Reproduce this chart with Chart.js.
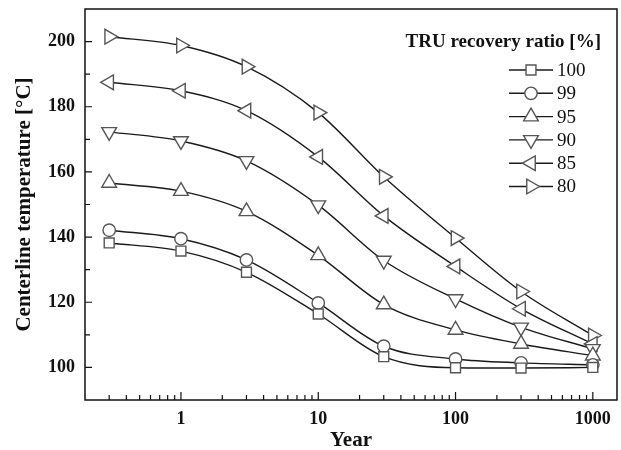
<!DOCTYPE html>
<html>
<head>
<meta charset="utf-8">
<script src="https://cdn.jsdelivr.net/npm/chart.js@4.4.1/dist/chart.umd.min.js"></script>
<style>
  html, body { margin: 0; padding: 0; background: #fff; }
  #wrap { width: 621px; height: 450px; position: relative; }
</style>
</head>
<body>
<div id="wrap"><canvas id="chart"></canvas></div>
<script>
// years on a log axis
const years = [0.3, 1, 3, 10, 30, 100, 300, 1000];

// centerline temperature [degC] for each TRU recovery ratio
const tru100 = [138.2, 135.7, 129.2, 116.4, 103.3, 99.9, 99.8, 100.0];
const tru99 = [142.1, 139.5, 133.0, 119.8, 106.5, 102.6, 101.4, 100.8];
const tru95 = [156.6, 154.1, 147.9, 134.4, 119.3, 111.5, 107.2, 103.6];
const tru90 = [172.3, 169.5, 163.4, 149.8, 132.8, 121.0, 112.3, 105.7];
const tru85 = [187.5, 184.9, 178.8, 164.6, 146.5, 131.0, 118.0, 107.2];
const tru80 = [201.5, 198.8, 192.3, 178.2, 158.5, 139.7, 123.3, 109.8];

const seriesLabels = ['100', '99', '95', '90', '85', '80'];
const xTickLabels = [1, 10, 100, 1000];
const yTickLabels = [100, 120, 140, 160, 180, 200];

const legendTitle = 'TRU recovery ratio [%]';

const lineColor = '#1a1a1a';
const markColor = '#555';

function mkSeries(label, values, style, rot, r) {
    return {
        label: label,
        data: years.map((x, i) => ({ x: x, y: values[i] })),
        borderColor: lineColor,
        borderWidth: 1.4,
        cubicInterpolationMode: 'monotone',
        pointStyle: style,
        rotation: rot,
        pointRadius: r,
        pointBorderWidth: 1.4,
        pointBorderColor: markColor,
        pointBackgroundColor: '#fff',
        fill: false
    };
}

// inward ticks, frame and the custom legend
const framePlugin = {
    id: 'frame',
    afterDraw(chart) {
        const ctx = chart.ctx;
        const a = chart.chartArea;
        const xs = chart.scales.x, ys = chart.scales.y;
        ctx.save();
        ctx.strokeStyle = '#111';
        ctx.lineWidth = 1.5;
        ctx.strokeRect(a.left, a.top, a.right - a.left, a.bottom - a.top);

        ctx.lineWidth = 1.2;
        ctx.beginPath();
        // x ticks, log decades
        for (let p = -1; p <= 3; p++) {
            for (let m = 1; m <= 9; m++) {
                const v = m * Math.pow(10, p);
                if (v < 0.25 || v > 1400) continue;
                const px = xs.getPixelForValue(v);
                const len = m === 1 ? 8 : 5;
                ctx.moveTo(px, a.bottom);
                ctx.lineTo(px, a.bottom - len);
            }
        }
        // y ticks
        for (let v = 100; v <= 200; v += 10) {
            const py = ys.getPixelForValue(v);
            const len = v % 20 === 0 ? 7 : 5;
            ctx.moveTo(a.left, py);
            ctx.lineTo(a.left + len, py);
        }
        ctx.stroke();

        // legend
        ctx.fillStyle = '#111';
        ctx.font = 'bold 19px "Liberation Serif"';
        ctx.textAlign = 'right';
        ctx.textBaseline = 'middle';
        ctx.fillText(legendTitle, 601, 42);

        ctx.font = '19px "Liberation Serif"';
        ctx.textAlign = 'left';
        chart.data.datasets.forEach((ds, i) => {
            const y = 70 + i * 23.3;
            ctx.strokeStyle = lineColor;
            ctx.lineWidth = 1.4;
            ctx.beginPath();
            ctx.moveTo(509, y);
            ctx.lineTo(553, y);
            ctx.stroke();
            ctx.strokeStyle = markColor;
            ctx.fillStyle = '#fff';
            ctx.lineWidth = 1.4;
            Chart.helpers.drawPoint(ctx, {
                pointStyle: ds.pointStyle,
                rotation: ds.rotation,
                radius: ds.pointRadius,
                borderWidth: 1.4
            }, 531, y);
            ctx.fillStyle = '#111';
            ctx.fillText(ds.label, 557, y + 1);
        });
        ctx.restore();
    }
};

const ctx = document.getElementById('chart').getContext('2d');
new Chart(ctx, {
    type: 'line',
    data: {
        datasets: [
            mkSeries(seriesLabels[0], tru100, 'rect', 0, 7),
            mkSeries(seriesLabels[1], tru99, 'circle', 0, 6.2),
            mkSeries(seriesLabels[2], tru95, 'triangle', 0, 8.5),
            mkSeries(seriesLabels[3], tru90, 'triangle', 180, 8.5),
            mkSeries(seriesLabels[4], tru85, 'triangle', 270, 8.5),
            mkSeries(seriesLabels[5], tru80, 'triangle', 90, 8.5)
        ]
    },
    options: {
        responsive: true,
        maintainAspectRatio: false,
        animation: false,
        layout: { autoPadding: false, padding: { left: 0, right: 4, top: 9, bottom: 0 } },
        plugins: {
            legend: { display: false },
            tooltip: { enabled: false }
        },
        scales: {
            x: {
                type: 'logarithmic',
                min: 0.2,
                max: 1500,
                grid: { display: false, drawTicks: false },
                border: { display: false },
                afterFit(scale) {
                    scale.height = 50;
                    scale.paddingLeft = 0;
                    scale.paddingRight = 0;
                },
                ticks: {
                    autoSkip: false,
                    maxRotation: 0,
                    padding: 9,
                    color: '#111',
                    font: { family: 'Liberation Serif', size: 18, weight: 'bold' },
                    callback: v => xTickLabels.includes(v) ? String(v) : ''
                },
                title: {
                    display: true,
                    text: 'Year',
                    color: '#111',
                    padding: { top: 0, bottom: 0 },
                    font: { family: 'Liberation Serif', size: 21, weight: 'bold', lineHeight: 0.9 }
                }
            },
            y: {
                min: 90,
                max: 210,
                grid: { display: false, drawTicks: false },
                border: { display: false },
                afterFit(scale) {
                    scale.width = 85;
                    scale.paddingTop = 0;
                    scale.paddingBottom = 0;
                },
                ticks: {
                    stepSize: 10,
                    padding: 10,
                    color: '#111',
                    font: { family: 'Liberation Serif', size: 18, weight: 'bold' },
                    callback: v => yTickLabels.includes(v) ? String(v) : ''
                },
                title: {
                    display: true,
                    text: 'Centerline temperature [\u00B0C]',
                    color: '#111',
                    padding: { top: 12, bottom: 0 },
                    font: { family: 'Liberation Serif', size: 21, weight: 'bold' }
                }
            }
        }
    },
    plugins: [framePlugin]
});
</script>
</body>
</html>
